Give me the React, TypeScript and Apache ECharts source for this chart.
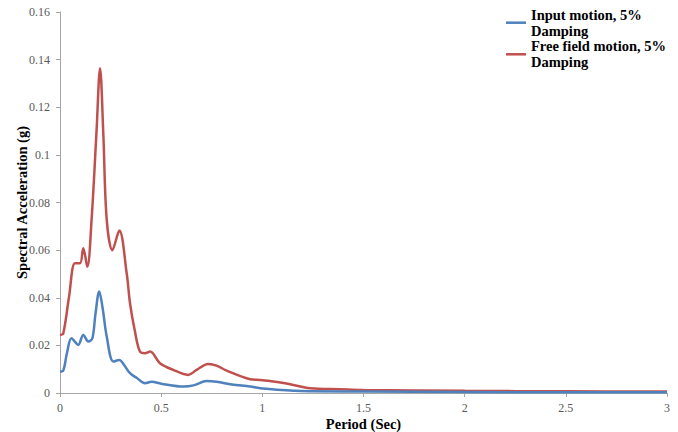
import React, { useEffect, useRef } from "react";
import * as echarts from "echarts";

const inputPeriod = [0, 0.016, 0.035, 0.057, 0.09, 0.115, 0.14, 0.16, 0.175, 0.194, 0.21, 0.231, 0.264, 0.293, 0.315, 0.346, 0.38, 0.42, 0.453, 0.5, 0.61, 0.66, 0.725, 0.774, 0.85, 0.94, 0.99, 1.19, 1.5, 2, 2.5, 3];
const inputSa = [0.009, 0.0094, 0.017, 0.023, 0.0202, 0.0244, 0.0216, 0.023, 0.033, 0.0426, 0.036, 0.0237, 0.0132, 0.0139, 0.012, 0.0083, 0.0063, 0.0041, 0.0047, 0.0039, 0.0027, 0.0032, 0.005, 0.0047, 0.0036, 0.0027, 0.002, 0.0008, 0.0006, 0.0004, 0.0003, 0.0003];

const freePeriod = [0, 0.016, 0.044, 0.074, 0.099, 0.115, 0.135, 0.156, 0.18, 0.198, 0.214, 0.231, 0.259, 0.293, 0.33, 0.346, 0.37, 0.395, 0.42, 0.445, 0.494, 0.56, 0.634, 0.675, 0.733, 0.774, 0.824, 0.94, 0.989, 1.038, 1.137, 1.236, 1.384, 1.5, 2, 2.5, 3];
const freeSa = [0.0244, 0.025, 0.04, 0.0545, 0.0545, 0.0608, 0.053, 0.0727, 0.109, 0.1364, 0.109, 0.0727, 0.06, 0.0682, 0.05, 0.0377, 0.026, 0.0174, 0.0167, 0.0174, 0.0125, 0.0097, 0.0076, 0.0097, 0.0122, 0.0115, 0.0094, 0.0058, 0.0055, 0.005, 0.0037, 0.002, 0.0016, 0.0013, 0.0009, 0.0007, 0.0006];

const seriesNames = ["Input motion, 5% Damping", "Free field motion, 5% Damping"];
const legendLabels = ["Input motion, 5%\nDamping", "Free field motion, 5%\nDamping"];
const colors = ["#4f81bd", "#c0504d"];

const FONT = "'Liberation Serif', 'Times New Roman', serif";

export default function App() {
  const ref = useRef<HTMLDivElement>(null);
  useEffect(() => {
    if (!ref.current) return;
    const chart = echarts.init(ref.current, undefined, { renderer: "svg" });
    const legendText = {
      fontFamily: FONT,
      fontWeight: "bold" as const,
      fontSize: 14.5,
      color: "#000",
      lineHeight: 16,
      padding: [16, 0, 0, 0],
    };
    const makeLegend = (i: number, top: number) => ({
      data: [seriesNames[i]],
      left: 506,
      top,
      padding: 0,
      itemWidth: 20,
      itemHeight: 2.5,
      itemGap: 2,
      icon: "rect",
      formatter: () => legendLabels[i],
      textStyle: legendText,
    });
    chart.setOption({
      animation: false,
      backgroundColor: "#fff",
      color: colors,
      legend: [makeLegend(0, -1.3), makeLegend(1, 30.3)],
      grid: {
        left: 60,
        right: 11,
        top: 12,
        bottom: 39,
        containLabel: false,
        outerBoundsMode: "none",
      },
      xAxis: {
        type: "value",
        min: 0,
        max: 3,
        interval: 0.5,
        name: "Period (Sec)",
        nameLocation: "middle",
        nameGap: 23,
        nameMoveOverlap: false,
        nameTextStyle: { fontFamily: FONT, fontWeight: "bold", fontSize: 14.5, color: "#000" },
        axisLine: { show: true, lineStyle: { color: "#a6a6a6", width: 1 } },
        axisTick: { show: true, length: 4, lineStyle: { color: "#a6a6a6" } },
        axisLabel: { fontFamily: FONT, fontSize: 12, color: "#595959", margin: 9 },
        splitLine: { show: false },
      },
      yAxis: {
        type: "value",
        min: 0,
        max: 0.16,
        interval: 0.02,
        name: "Spectral Acceleration (g)",
        nameLocation: "middle",
        nameGap: 31,
        nameMoveOverlap: false,
        nameTextStyle: { fontFamily: FONT, fontWeight: "bold", fontSize: 14.5, color: "#000" },
        axisLine: { show: true, lineStyle: { color: "#a6a6a6", width: 1 } },
        axisTick: { show: true, length: 4, lineStyle: { color: "#a6a6a6" } },
        axisLabel: { fontFamily: FONT, fontSize: 12, color: "#595959", margin: 10 },
        splitLine: { show: false },
      },
      series: [
        {
          name: seriesNames[0],
          type: "line",
          data: inputPeriod.map((p, i) => [p, inputSa[i]]),
          showSymbol: false,
          smooth: 0.35,
          lineStyle: { width: 2.5, color: colors[0] },
          itemStyle: { color: colors[0] },
          z: 3,
        },
        {
          name: seriesNames[1],
          type: "line",
          data: freePeriod.map((p, i) => [p, freeSa[i]]),
          showSymbol: false,
          smooth: 0.35,
          lineStyle: { width: 2.5, color: colors[1] },
          itemStyle: { color: colors[1] },
          z: 2,
        },
      ],
    });
    return () => chart.dispose();
  }, []);
  return (
    <div
      ref={ref}
      style={{ position: "absolute", left: 0, top: 0, width: 678, height: 432 }}
    />
  );
}
